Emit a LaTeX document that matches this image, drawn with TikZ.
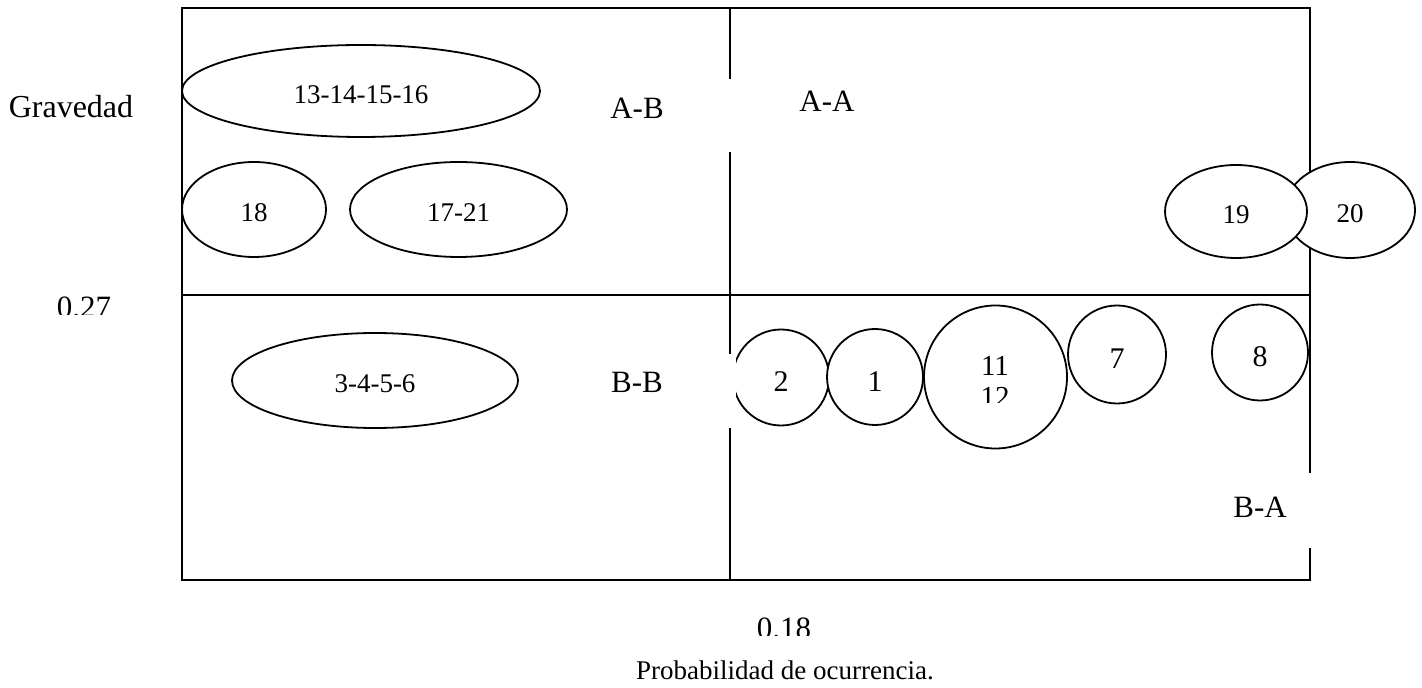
\documentclass[tikz,border=0pt]{standalone}
\usepackage{fontspec}
\setmainfont{Liberation Serif}
\usetikzlibrary{shapes.geometric}
\tikzset{
  frameline/.style={line width=1.1pt},
  bub/.style={draw, ellipse, line width=0.9pt, fill=white, inner sep=0pt,
    text height=12.5pt, text depth=0pt, font=\fontsize{13.5}{16}\selectfont},
  circ/.style={draw, circle, line width=0.9pt, fill=white, inner sep=0pt,
    text height=14.5pt, text depth=0pt, font=\fontsize{15}{17}\selectfont},
  lab/.style={anchor=base, inner sep=0pt, font=\fontsize{15.5}{18}\selectfont},
  small/.style={anchor=base, inner sep=0pt, font=\fontsize{13.5}{16}\selectfont},
  gapbox/.style={fill=white, draw=none}
}
\begin{document}
\begin{tikzpicture}[x=0.5pt, y=-0.5pt]
\useasboundingbox (0,0) rectangle (1422,688);
% frame
\coordinate (tl) at (182,8);
\coordinate (tr) at (1310,8);
\coordinate (br) at (1310,580);
\coordinate (bl) at (182,580);
\coordinate (ml) at (182,295);
\coordinate (mr) at (1310,295);
\coordinate (mt) at (730,8);
\coordinate (mb) at (730,580);
\draw[frameline] (tl) rectangle (br);
\draw[frameline] (ml) -- (mr);
\draw[frameline] (mt) -- (mb);
% ellipses upper left
\node[bub, minimum width=179pt, minimum height=46pt] (e13) at (361,91) {13-14-15-16};
\node[bub, minimum width=72pt, minimum height=47.5pt] (e18) at (254,209.5) {18};
\node[bub, minimum width=108.5pt, minimum height=47.5pt] (e1721) at (458.5,209.5) {17-21};
% lower left
\node[bub, minimum width=143pt, minimum height=47.5pt] (e3456) at (375,380.5) {3-4-5-6};
% circles lower right
\node[circ, minimum size=48pt] (c2) at (781,377.5) {2};
\node[circ, minimum size=48pt] (c1) at (875,377) {1};
\node[circ, minimum size=71.5pt] (c11) at (995.5,377) {};
\node[circ, minimum size=49pt] (c7) at (1117,354.5) {7};
\node[circ, minimum size=48pt] (c8) at (1260,352.5) {8};
% upper right
\node[bub, minimum width=65pt, minimum height=48pt] (e20) at (1350,210) {20};
\node[bub, minimum width=71pt, minimum height=46.5pt] (e19) at (1236,211.5) {19};
% gaps (text boxes)
\fill[gapbox] (724,79) rectangle (736,152);
\fill[gapbox] (724,354) rectangle (735.5,428);
\fill[gapbox] (1304,473) rectangle (1316,548);
% text in 11/12 circle
\node[small, font=\fontsize{14.5}{16}\selectfont] (t11) at (995,376) {11};
\begin{scope}
  \clip (940,380) rectangle (1050,403);
  \node[small, font=\fontsize{14.5}{16}\selectfont] (t12) at (995,407) {12};
\end{scope}
% labels
\node[lab] (ab) at (637,119) {A-B};
\node[lab] (aa) at (827,112) {A-A};
\node[lab] (bb) at (637,393) {B-B};
\node[lab] (ba) at (1260,518) {B-A};
\node[lab, font=\fontsize{16}{18}\selectfont] (grav) at (71,118) {Gravedad};
\begin{scope}
  \clip (30,280) rectangle (140,315);
  \node[lab] (v27) at (84,318) {0.27};
\end{scope}
\begin{scope}
  \clip (730,600) rectangle (840,635);
  \node[lab] (v18) at (784,638) {0.18};
\end{scope}
\node[small] (prob) at (785,679) {Probabilidad de ocurrencia.};
\end{tikzpicture}
\end{document}
